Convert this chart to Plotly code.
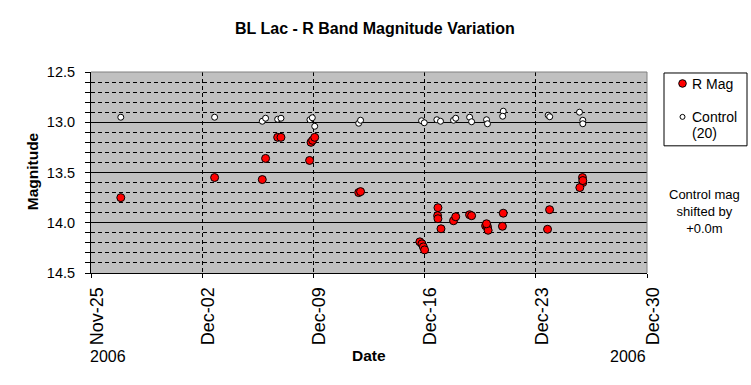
import plotly.graph_objects as go

# R band magnitudes of BL Lac
r_dates = [
    "2006-11-26 21:00", "2006-12-02 18:45", "2006-12-05 18:45", "2006-12-05 23:45",
    "2006-12-06 18:00", "2006-12-06 23:00", "2006-12-08 18:15", "2006-12-08 20:25",
    "2006-12-08 22:50", "2006-12-09 02:00", "2006-12-11 20:25", "2006-12-11 23:15",
    "2006-12-15 16:50", "2006-12-15 20:00", "2006-12-15 22:05", "2006-12-16 00:00",
    "2006-12-16 20:10", "2006-12-16 19:40", "2006-12-16 20:10", "2006-12-17 00:45",
    "2006-12-17 19:40", "2006-12-17 23:00", "2006-12-18 19:55", "2006-12-18 23:00",
    "2006-12-19 20:10", "2006-12-19 23:00", "2006-12-20 00:00", "2006-12-19 21:35",
    "2006-12-20 22:50", "2006-12-20 21:35", "2006-12-23 20:50", "2006-12-23 17:45",
    "2006-12-25 22:30", "2006-12-25 23:00", "2006-12-25 18:30", "2006-12-25 23:00",
]
r_mag = [
    13.75, 13.55, 13.57, 13.36,
    13.15, 13.15, 13.38, 13.20,
    13.18, 13.15, 13.70, 13.69,
    14.19, 14.21, 14.24, 14.27,
    13.85, 13.93, 13.96, 14.06,
    13.98, 13.94, 13.92, 13.93,
    14.03, 14.04, 14.075, 14.01,
    13.905, 14.035, 13.87, 14.065,
    13.55, 13.60, 13.65, 13.58,
]

# Control star (20)
c_dates = [
    "2006-11-26 21:00", "2006-12-02 18:45", "2006-12-05 18:45", "2006-12-05 23:45",
    "2006-12-06 18:00", "2006-12-06 23:00", "2006-12-08 18:45", "2006-12-08 22:20",
    "2006-12-09 02:00", "2006-12-11 20:25", "2006-12-11 23:15", "2006-12-15 19:25",
    "2006-12-15 23:30", "2006-12-16 18:30", "2006-12-17 00:00", "2006-12-17 19:40",
    "2006-12-17 23:00", "2006-12-18 20:00", "2006-12-18 23:00", "2006-12-19 21:35",
    "2006-12-19 23:00", "2006-12-20 22:50", "2006-12-20 22:00", "2006-12-23 18:40",
    "2006-12-23 21:00", "2006-12-25 18:00", "2006-12-25 23:00", "2006-12-25 23:00",
]
c_mag = [
    12.95, 12.95, 12.99, 12.96,
    12.97, 12.96, 12.975, 12.955,
    13.04, 13.01, 12.98, 12.985,
    13.005, 12.975, 12.99, 12.98,
    12.96, 12.95, 12.995, 12.975,
    13.015, 12.89, 12.94, 12.93,
    12.945, 12.90, 12.98, 13.015,
]

series_names = ["R Mag", "Control", "(20)"]
x_range = ["2006-11-25", "2006-12-30"]
y_range = [14.5, 12.5]

FONT = "Liberation Sans, Arial, sans-serif"

fig = go.Figure()
fig.add_trace(go.Scatter(
    x=r_dates, y=r_mag, mode="markers", name=series_names[0],
    marker=dict(symbol="circle", size=8, color="#FF0000", line=dict(color="black", width=1)),
))
fig.add_trace(go.Scatter(
    x=c_dates, y=c_mag, mode="markers", name=series_names[1] + " " + series_names[2],
    marker=dict(symbol="circle", size=6, color="#FFFFFF", line=dict(color="black", width=1)),
))

W, H = 751, 385
L, R, T, B = 91, 647, 72, 273.5

def px(x):
    return (x - L) / (R - L)

def py(y):
    return (B - y) / (B - T)

def dot(cx, cy, r, fill):
    return dict(type="circle", xref="paper", yref="paper",
                xsizemode="pixel", ysizemode="pixel",
                xanchor=px(cx), yanchor=py(cy),
                x0=-r, x1=r, y0=-r, y1=r,
                fillcolor=fill, line=dict(color="black", width=1))

def label(text, x, y, size, xanchor="center", **kw):
    return dict(text=text, xref="paper", yref="paper", x=px(x), y=py(y),
                xanchor=xanchor, yanchor="middle", showarrow=False,
                font=dict(size=size), **kw)

fig.update_layout(
    width=W, height=H,
    margin=dict(l=L, r=W - R, t=T, b=H - B, pad=0, autoexpand=False),
    paper_bgcolor="white",
    plot_bgcolor="#C0C0C0",
    font=dict(family=FONT, size=13, color="black"),
    showlegend=False,
    xaxis=dict(
        type="date", range=x_range, dtick=7 * 86400000, tick0="2006-11-25",
        tickformat="%b-%d", tickangle=-90, ticks="outside", ticklen=4,
        tickcolor="black", showline=True, linecolor="black", linewidth=1,
        mirror=False, showgrid=True, gridcolor="black", griddash="4px,3px",
        gridwidth=1, zeroline=False, tickfont=dict(size=18),
        ticklabelshift=6, ticklabelstandoff=2,
    ),
    yaxis=dict(
        range=y_range, dtick=0.5, tick0=12.5, tickformat=".1f", ticks="outside",
        ticklen=5, tickcolor="black", showline=True, linecolor="black",
        linewidth=1, showgrid=True, gridcolor="black", gridwidth=1,
        zeroline=False, tickfont=dict(size=14.5), ticklabelstandoff=7,
        minor=dict(dtick=0.1, ticks="outside", ticklen=5, tickcolor="black",
                   showgrid=True, gridcolor="black", griddash="4px,3px", gridwidth=1),
    ),
    shapes=[
        dict(type="line", xref="paper", yref="paper", x0=0, x1=1, y0=1, y1=1,
             line=dict(color="#808080", width=1)),
        dict(type="line", xref="paper", yref="paper", x0=1, x1=1, y0=0, y1=1,
             line=dict(color="#808080", width=1)),
        # legend box
        dict(type="rect", xref="paper", yref="paper",
             x0=px(664), x1=px(747), y0=py(146), y1=py(73),
             fillcolor="white", line=dict(color="black", width=1)),
        dot(682.5, 83.5, 3.8, "#FF0000"),
        dot(682.5, 117, 2.5, "#FFFFFF"),
    ],
    annotations=[
        label("<b>BL Lac - R Band Magnitude Variation</b>", 375, 28, 16),
        label("<b>Magnitude</b>", 32.5, 172, 15.5, textangle=-90),
        label("<b>Date</b>", 369, 356, 15.5),
        label("2006", 88, 357, 16, xanchor="left"),
        label("2006", 648, 357, 16, xanchor="right"),
        label(series_names[0], 690, 84, 14, xanchor="left"),
        label(series_names[1], 690, 117.5, 14, xanchor="left"),
        label(series_names[2], 690, 133.5, 14, xanchor="left"),
        label("Control mag<br>shifted by<br>+0.0m", 704, 211.5, 13, align="center"),
    ],
)

fig.write_html(
    "out.html",
    config={"displayModeBar": False},
    post_script="document.body.style.margin='0';document.body.style.padding='0';",
)
